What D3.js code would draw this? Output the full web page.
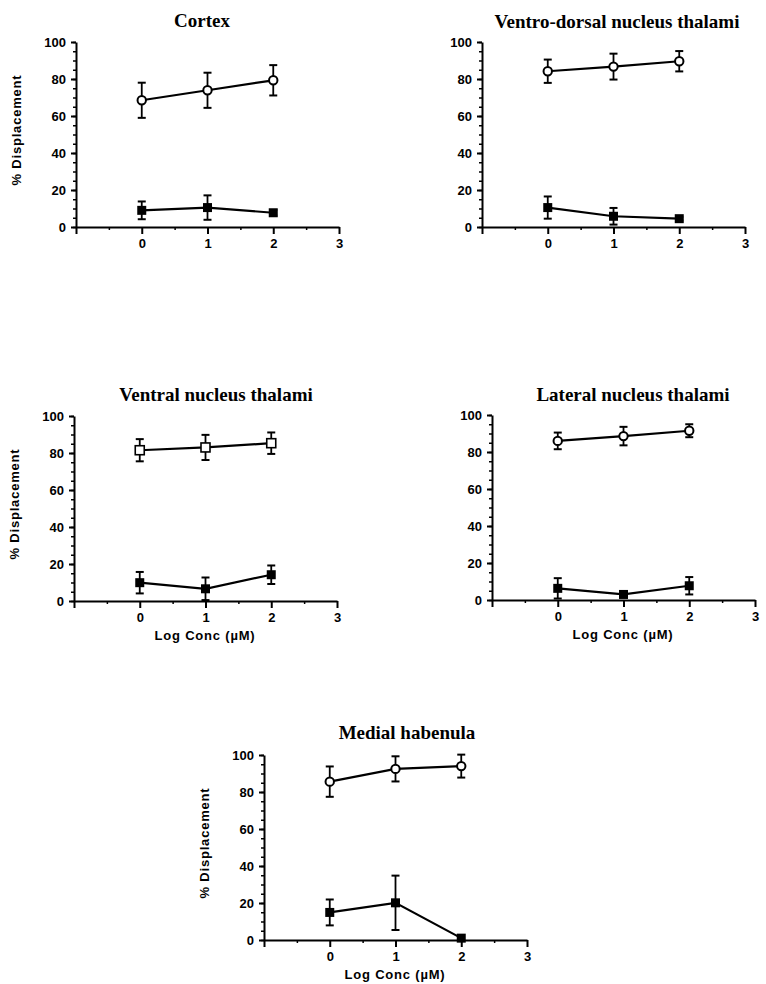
<!DOCTYPE html>
<meta charset="utf-8">
<style>
  body { margin: 0; background: #fff; }
  svg { display: block; }
  .tick text { font-family: "Liberation Sans", Arial, sans-serif; font-weight: bold; font-size: 13px; fill: #000; }
  .domain, .tick line { stroke: #000; }
</style>
<svg id="chart" width="766" height="984"></svg>
<script src="https://cdn.jsdelivr.net/npm/d3@7"></script>
<script>
// data
var panelTitles = ["Cortex", "Ventro-dorsal nucleus thalami", "Ventral nucleus thalami", "Lateral nucleus thalami", "Medial habenula"];
var logConc = [0, 1, 2];
var openMean = [[68.5, 73.9, 79.3], [84.2, 86.7, 89.6], [81.5, 83, 85.3], [86, 88.6, 91.5], [85.6, 92.5, 94]];
var openErr = [[9.5, 9.5, 8.2], [6.3, 7, 5.5], [6, 6.8, 5.8], [4.5, 5, 3.5], [8.2, 6.8, 6.2]];
var filledMean = [[9, 10.5, 7.7], [10.5, 5.8, 4.5], [9.9, 6.6, 14.2], [6.3, 3, 7.7], [14.9, 20.1, 1]];
var filledErr = [[4.8, 6.6, 1.5], [6, 4.5, 1], [5.8, 6.1, 5], [5.5, 1.5, 4.7], [7, 14.7, 0]];
var openShape = ["circle", "circle", "square", "circle", "circle"];
var xTickLabels = [0, 1, 2, 3];
var yTickLabels = [0, 20, 40, 60, 80, 100];

// where each panel sits on the page
var layout = [
  {left: 76, bottom: 227, tx: 202, ty: 27, ylab: true, xlab: false},
  {left: 482, bottom: 227, tx: 617, ty: 28, ylab: false, xlab: false},
  {left: 74, bottom: 601, tx: 216, ty: 401, ylab: true, xlab: true},
  {left: 492, bottom: 600, tx: 633, ty: 401, ylab: false, xlab: true},
  {left: 264, bottom: 940, tx: 407, ty: 739, ylab: true, xlab: true}
];
var W = 263, H = 185;

var svg = d3.select("#chart");

panelTitles.forEach(function(title, i) {
  var L = layout[i];
  var x = d3.scaleLinear().domain([-1, 3]).range([L.left, L.left + W]);
  var y = d3.scaleLinear().domain([0, 100]).range([L.bottom, L.bottom - H]);

  svg.append("text")
    .attr("x", L.tx).attr("y", L.ty)
    .attr("text-anchor", "middle")
    .style("font-family", "'Liberation Serif', 'Times New Roman', serif")
    .style("font-weight", "bold").style("font-size", "19px")
    .text(title);

  // minor ticks first
  svg.append("g").attr("transform", "translate(" + L.left + ",0)")
    .call(d3.axisLeft(y).tickValues(d3.range(0, 101, 5)).tickSize(3).tickFormat(""))
    .call(function(g) { g.select(".domain").remove(); g.selectAll("line").attr("stroke-width", 1.5); });
  svg.append("g").attr("transform", "translate(0," + L.bottom + ")")
    .call(d3.axisBottom(x).tickValues([-0.5, 0.5, 1.5, 2.5]).tickSize(3).tickFormat(""))
    .call(function(g) { g.select(".domain").remove(); g.selectAll("line").attr("stroke-width", 1.5); });

  svg.append("g").attr("transform", "translate(" + L.left + ",0)")
    .call(d3.axisLeft(y).tickValues(yTickLabels).tickSize(5).tickPadding(5).tickSizeOuter(0))
    .call(function(g) { g.selectAll("line, .domain").attr("stroke-width", 2); });
  svg.append("g").attr("transform", "translate(0," + L.bottom + ")")
    .call(d3.axisBottom(x).tickValues([-1].concat(xTickLabels)).tickSize(7).tickPadding(5).tickSizeOuter(0)
      .tickFormat(function(d) { return d < 0 ? "" : d; }))
    .call(function(g) { g.selectAll("line, .domain").attr("stroke-width", 2); });

  if (L.ylab) {
    svg.append("text")
      .attr("transform", "translate(" + (L.left - 55) + "," + (L.bottom - 97) + ") rotate(-90)")
      .attr("text-anchor", "middle")
      .style("font-family", "'Liberation Sans', Arial, sans-serif")
      .style("font-weight", "bold").style("font-size", "13px").style("letter-spacing", "0.8px")
      .text("%  Displacement");
  }
  if (L.xlab) {
    svg.append("text")
      .attr("x", L.left + 131).attr("y", L.bottom + 39)
      .attr("text-anchor", "middle")
      .style("font-family", "'Liberation Sans', Arial, sans-serif")
      .style("font-weight", "bold").style("font-size", "13px").style("letter-spacing", "0.8px")
      .text("Log Conc (\u00b5M)");
  }

  var line = d3.line().x(function(d) { return x(d[0]); }).y(function(d) { return y(d[1]); });

  [[openMean[i], openErr[i], openShape[i]], [filledMean[i], filledErr[i], "filled"]].forEach(function(s) {
    var pts = logConc.map(function(c, j) { return [c, s[0][j], s[1][j]]; });
    var g = svg.append("g");
    g.append("path").attr("d", line(pts)).attr("fill", "none").attr("stroke", "#000").attr("stroke-width", 2.2);
    pts.forEach(function(p) {
      var cx = x(p[0]), cy = y(p[1]);
      if (p[2] > 0) {
        var top = y(p[1] + p[2]), bot = y(p[1] - p[2]);
        g.append("line").attr("x1", cx).attr("x2", cx).attr("y1", top).attr("y2", bot)
          .attr("stroke", "#000").attr("stroke-width", 1.8);
        [top, bot].forEach(function(yy) {
          g.append("line").attr("x1", cx - 4).attr("x2", cx + 4).attr("y1", yy).attr("y2", yy)
            .attr("stroke", "#000").attr("stroke-width", 2);
        });
      }
      if (s[2] === "circle") {
        g.append("circle").attr("cx", cx).attr("cy", cy).attr("r", 4.2)
          .attr("fill", "#fff").attr("stroke", "#000").attr("stroke-width", 2);
      } else if (s[2] === "square") {
        g.append("rect").attr("x", cx - 4.5).attr("y", cy - 4.5).attr("width", 9).attr("height", 9)
          .attr("fill", "#fff").attr("stroke", "#000").attr("stroke-width", 1.6);
      } else {
        g.append("rect").attr("x", cx - 4.5).attr("y", cy - 4.5).attr("width", 9).attr("height", 9)
          .attr("fill", "#000");
      }
    });
  });
});
</script>
